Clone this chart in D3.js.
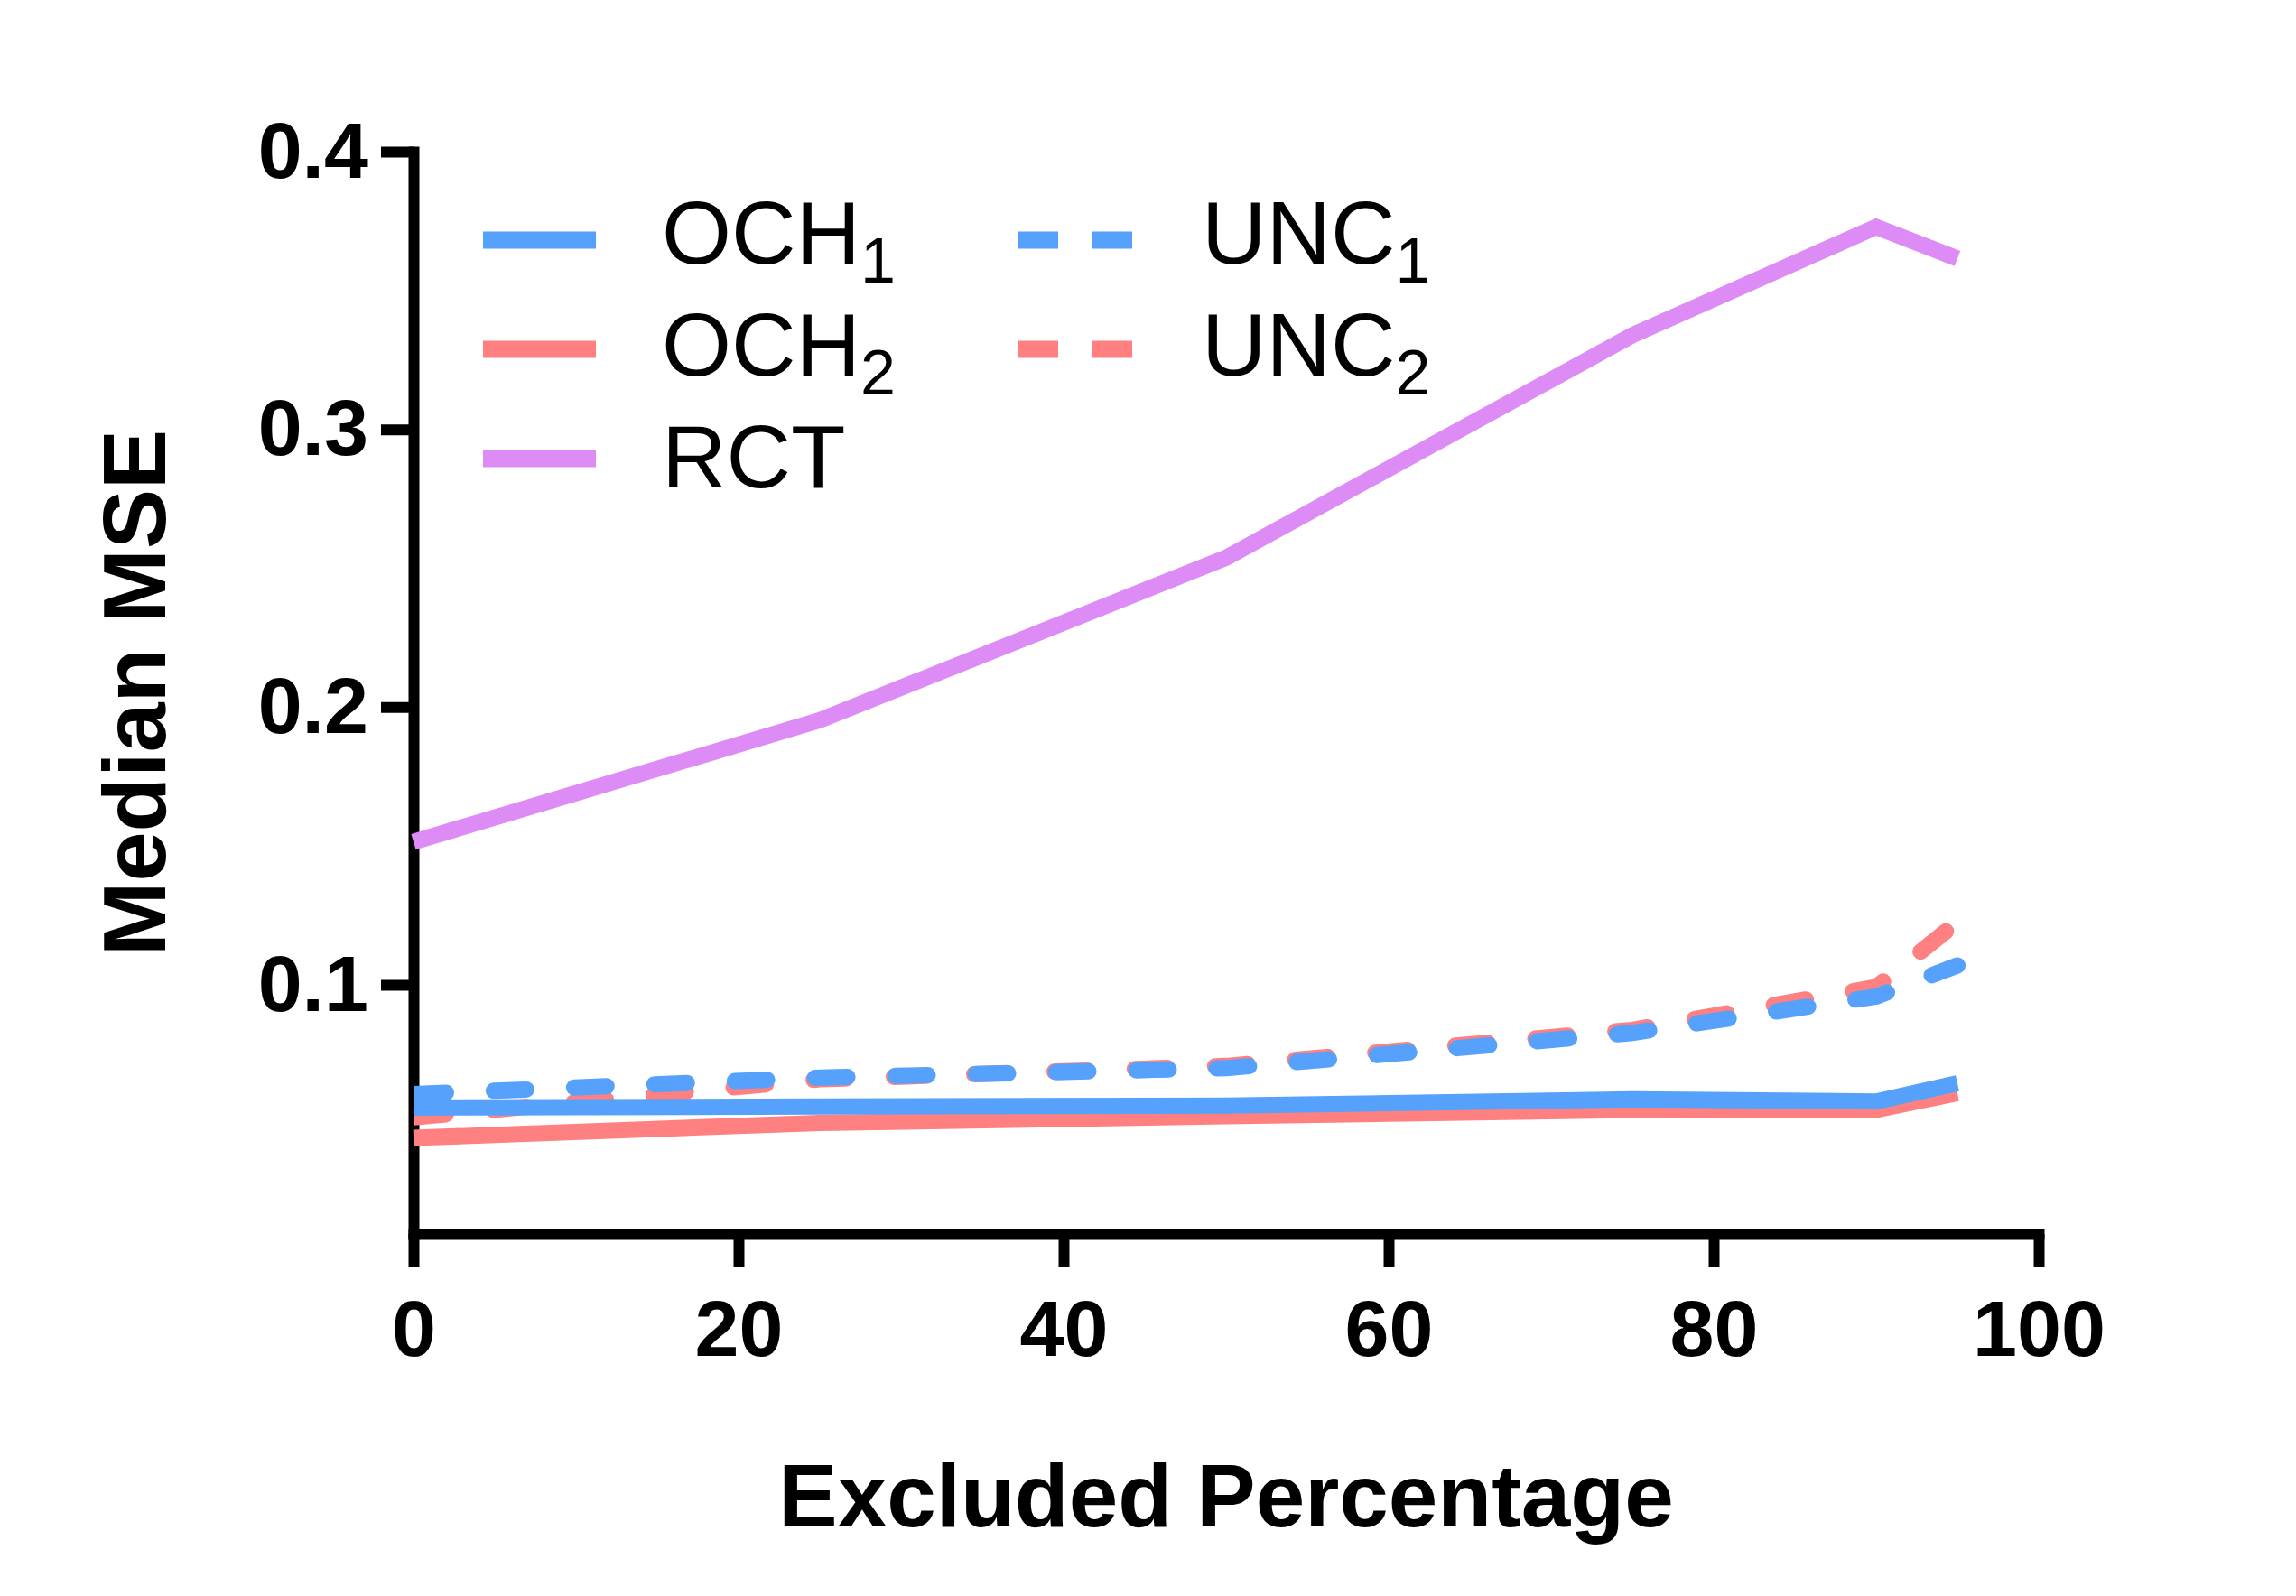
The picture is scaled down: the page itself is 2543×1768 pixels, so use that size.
<!DOCTYPE html>
<html>
<head>
<meta charset="utf-8">
<script src="https://cdn.jsdelivr.net/npm/d3@7"></script>
<style>
  body { margin: 0; background: #fff; }
  text { font-family: "Liberation Sans", Arial, Helvetica, sans-serif; }
</style>
</head>
<body>
<div id="chart"></div>
<script>
// excluded percentage (x) and median MSE per method
var percents = [0, 25, 50, 75, 90, 95];
var och1 = [0.0558, 0.0562, 0.0565, 0.0588, 0.0580, 0.0646];
var och2 = [0.0449, 0.0503, 0.0527, 0.0550, 0.0550, 0.0610];
var rct  = [0.1515, 0.1953, 0.2538, 0.3339, 0.3729, 0.3615];
var unc1 = [0.0607, 0.0666, 0.0700, 0.0827, 0.0958, 0.1070];
var unc2 = [0.0523, 0.0660, 0.0708, 0.0838, 0.0992, 0.1226];

var xTicks = [0, 20, 40, 60, 80, 100];
var yTicks = [0.1, 0.2, 0.3, 0.4];

var legendLeft = [
    { name: "OCH", sub: "1", color: "#55a1fb" },
    { name: "OCH", sub: "2", color: "#ff8080" },
    { name: "RCT", sub: "", color: "#dd8cf6" }
];
var legendRight = [
    { name: "UNC", sub: "1", color: "#55a1fb" },
    { name: "UNC", sub: "2", color: "#ff8080" }
];

var width = 2543, height = 1768;

var x = d3.scaleLinear().domain([0, 100]).range([458, 2258]);
var y = d3.scaleLinear().domain([0.0103, 0.4]).range([1367, 168]);

var svg = d3.select("#chart")
    .append("svg")
    .attr("width", width)
    .attr("height", height);

svg.append("rect")
    .attr("width", width)
    .attr("height", height)
    .attr("fill", "#fff");

// axes
var xAxis = d3.axisBottom(x)
    .tickValues(xTicks)
    .tickSize(36)
    .tickSizeOuter(0)
    .tickPadding(37)
    .tickFormat(d3.format("d"));

var yAxis = d3.axisLeft(y)
    .tickValues(yTicks)
    .tickSize(36)
    .tickSizeOuter(0)
    .tickPadding(14)
    .tickFormat(d3.format(".1f"));

var gx = svg.append("g")
    .attr("transform", "translate(0," + y.range()[0] + ")")
    .call(xAxis);

var gy = svg.append("g")
    .attr("transform", "translate(" + x.range()[0] + ",0)")
    .call(yAxis);

[gx, gy].forEach(function(g) {
    g.select(".domain")
        .attr("stroke", "#000")
        .attr("stroke-width", 12)
        .attr("stroke-linecap", "square");
    g.selectAll(".tick line")
        .attr("stroke", "#000")
        .attr("stroke-width", 12);
    g.selectAll(".tick text")
        .attr("fill", "#000")
        .style("font-size", "88px")
        .style("font-weight", "bold")
        .style("font-family", "'Liberation Sans', Arial, sans-serif");
});

// axis titles
svg.append("text")
    .attr("x", (x.range()[0] + x.range()[1]) / 2)
    .attr("y", 1691)
    .attr("text-anchor", "middle")
    .style("font-size", "98px")
    .style("font-weight", "bold")
    .text("Excluded Percentage");

svg.append("text")
    .attr("transform", "translate(183," + (y.range()[0] + y.range()[1]) / 2 + ") rotate(-90)")
    .attr("text-anchor", "middle")
    .style("font-size", "99px")
    .style("font-weight", "bold")
    .text("Median MSE");

// series
function seriesData(values) {
    return percents.map(function(p, i) { return { x: p, y: values[i] }; });
}

var line = d3.line()
    .x(function(d) { return x(d.x); })
    .y(function(d) { return y(d.y); });

svg.append("clipPath")
    .attr("id", "plotclip")
    .append("rect")
    .attr("x", x(0))
    .attr("y", 0)
    .attr("width", x(100) - x(0))
    .attr("height", height);

var series = [
    { values: unc2, color: "#ff8080", dashed: true },
    { values: och2, color: "#ff8080", dashed: false },
    { values: unc1, color: "#55a1fb", dashed: true },
    { values: och1, color: "#55a1fb", dashed: false },
    { values: rct,  color: "#dd8cf6", dashed: false }
];

series.forEach(function(s) {
    var path = svg.append("path")
        .datum(seriesData(s.values))
        .attr("fill", "none")
        .attr("stroke", s.color)
        .attr("stroke-width", 18)
        .attr("stroke-linejoin", "miter")
        .attr("d", line);
    if (s.dashed) {
        path.attr("stroke-dasharray", "36 53")
            .attr("stroke-linecap", "round")
            .attr("clip-path", "url(#plotclip)");
    } else {
        path.attr("stroke-linecap", "butt");
    }
});

// legend
function drawLegend(items, lineX1, lineX2, textX, dashed) {
    var g = svg.selectAll(null)
        .data(items)
        .enter().append("g")
        .attr("transform", function(d, i) {
            return "translate(0," + (266 + i * 121) + ")";
        });

    g.append("line")
        .attr("x1", lineX1)
        .attr("x2", lineX2)
        .attr("stroke", function(d) { return d.color; })
        .attr("stroke-width", 19)
        .attr("stroke-dasharray", dashed ? "45 37 45" : null);

    var t = g.append("text")
        .attr("x", textX)
        .attr("y", function(d, i) { return 26 + i * 3; })
        .style("font-size", "99px")
        .text(function(d) { return d.name; });

    t.append("tspan")
        .attr("dy", 21)
        .style("font-size", "70px")
        .text(function(d) { return d.sub; });
}

drawLegend(legendLeft, 535, 660, 733, false);
drawLegend(legendRight, 1127, 1254, 1331, true);
</script>
</body>
</html>
